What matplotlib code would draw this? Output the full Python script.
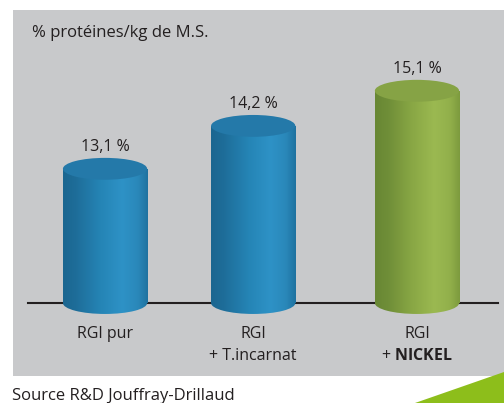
import matplotlib
matplotlib.use("Agg")
import matplotlib.pyplot as plt
import numpy as np
from matplotlib.colors import LinearSegmentedColormap
from matplotlib.patches import Ellipse, Polygon

# data
line1 = ["RGI pur", "RGI", "RGI"]
line2 = ["", "+ T.incarnat", r"+ $\mathbf{NICKEL}$"]
values = [13.1, 14.2, 15.1]
value_labels = ["13,1 %", "14,2 %", "15,1 %"]

plt.rcParams["font.family"] = ["Open Sans", "DejaVu Sans"]
plt.rcParams["mathtext.fontset"] = "custom"
plt.rcParams["mathtext.rm"] = "Open Sans"
plt.rcParams["mathtext.bf"] = "Open Sans:bold"

TXT = "#231f20"
GREY = "#c8c9cb"
xpos = [0, 0.95, 2]
base = 9.66
width = 0.54
ell_h = 0.56

blue = LinearSegmentedColormap.from_list("blue", [
    (0.0, "#1b6690"), (0.15, "#1e6d99"), (0.45, "#2585b6"),
    (0.7, "#2e92c6"), (0.88, "#2a88ba"), (1.0, "#1f72a0")])
green = LinearSegmentedColormap.from_list("green", [
    (0.0, "#688734"), (0.15, "#6f8e38"), (0.45, "#8aa845"),
    (0.7, "#9bb951"), (0.88, "#92b04b"), (1.0, "#7d9b3e")])
cmaps = [blue, blue, green]
top_colors = ["#2479a9", "#2479a9", "#86a345"]


def cylinder(ax, x, top, cmap, top_color):
    grad = np.linspace(0, 1, 256).reshape(1, -1)
    bar = ax.bar(x, top - base, bottom=base, width=width, color="none",
                 linewidth=0, zorder=3)[0]
    im = ax.imshow(grad, cmap=cmap, aspect="auto", zorder=3,
                   extent=(x - width / 2, x + width / 2, base, top))
    im.set_clip_path(bar)
    bot = Ellipse((x, base), width, ell_h, facecolor="none", edgecolor="none", zorder=3)
    ax.add_patch(bot)
    im2 = ax.imshow(grad, cmap=cmap, aspect="auto", zorder=3,
                    extent=(x - width / 2, x + width / 2, base - ell_h / 2, base + ell_h / 2))
    im2.set_clip_path(bot)
    ax.add_patch(Ellipse((x, top), width, ell_h, facecolor=top_color,
                         edgecolor="none", zorder=4))


fig = plt.figure(figsize=(5.04, 4.03), dpi=100)
ax = fig.add_axes([13 / 504, 27 / 403, 491 / 504, 366 / 403])
ax.set_facecolor(GREY)

ax.plot([-0.494, 2.519], [base, base], color=TXT, lw=1.5, zorder=2)

for i in range(len(values)):
    cylinder(ax, xpos[i], values[i], cmaps[i], top_colors[i])
    ax.text(xpos[i], values[i] + 0.56, value_labels[i], ha="center", va="center",
            fontsize=11.5, color=TXT)
    ax.text(xpos[i], 8.87, line1[i], ha="center", va="center", fontsize=11.5, color=TXT)
    ax.text(xpos[i], 8.30, line2[i], ha="center", va="center", fontsize=11.5, color=TXT)

ax.set_xlim(-0.590, 2.558)
ax.set_ylim(7.79, 17.17)
ax.set_xticks([])
ax.set_yticks([])
for s in ax.spines.values():
    s.set_visible(False)

fig.text(32 / 504, 1 - 33 / 403, "% protéines/kg de M.S.", ha="left", va="center",
         fontsize=12, color=TXT)
fig.text(12 / 504, 1 - 396 / 403, "Source R&D Jouffray-Drillaud", ha="left", va="center",
         fontsize=12, color=TXT)

tri = Polygon([(1, 1 - 372 / 403), (415 / 504, 0), (1, 0)], closed=True,
              transform=fig.transFigure, facecolor="#8dbe1b", edgecolor="none")
fig.add_artist(tri)

fig.savefig("out.png", dpi=100)
